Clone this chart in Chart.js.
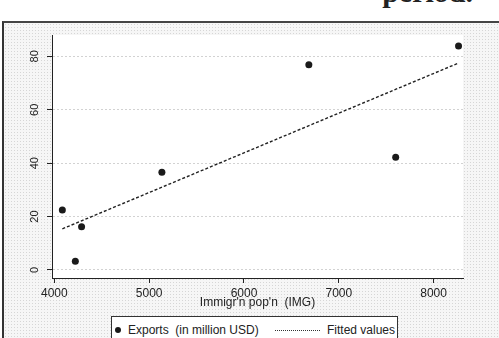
<!DOCTYPE html>
<html>
<head>
<meta charset="utf-8">
<script src="https://cdn.jsdelivr.net/npm/chart.js@4"></script>
<style>
html, body { margin: 0; padding: 0; width: 499px; height: 338px; overflow: hidden; background: #fff; }
#head { position: absolute; left: 0; top: -24px; width: 473px; text-align: right;
  font: bold 30px "Liberation Serif", serif; line-height: 32px; color: #222; white-space: nowrap; }
#frame { position: absolute; left: 2px; top: 21px; width: 497px; height: 317px;
  border-left: 2px solid #333; border-top: 2px solid #444;
  background-color: #f6f6f6;
  background-image: radial-gradient(circle, #d6d6d6 0.6px, transparent 1px);
  background-size: 3px 3px; }
#c { position: absolute; left: 0; top: 0; }
#legend { position: absolute; left: 111px; top: 316px; width: 285px; height: 30px;
  border: 1px solid #333; background: #fff; font: 12px "Liberation Sans", Arial, sans-serif; color: #222; }
#legend span { position: absolute; top: 6px; white-space: nowrap; }
#legend .dot { position: absolute; left: 3px; top: 10px; width: 6px; height: 6px; border-radius: 50%; background: #1a1a1a; }
#legend .dash { position: absolute; left: 163px; top: 13px; width: 45px; border-top: 1px dotted #333; }
</style>
</head>
<body>
<div id="head">period.</div>
<div id="frame"></div>
<canvas id="c" width="499" height="338"></canvas>
<div id="legend">
  <div class="dot"></div><span style="left:16px">Exports&nbsp; (in million USD)</span>
  <div class="dash"></div><span style="left:215px">Fitted values</span>
</div>
<script>
// values
const imgPop = [4084, 4221, 4287, 5134, 6684, 7600, 8263];
const exportsMUSD = [22.5, 3.3, 16.2, 36.6, 76.9, 42.2, 83.9];
const fitX = [4084, 8263];
const fitY = [15.4, 77.5];
const xTicks = [4000, 5000, 6000, 7000, 8000];
const yTicks = [0, 20, 40, 60, 80];

const plotBg = {
  id: 'plotBg',
  beforeDraw(chart) {
    const { ctx, chartArea: a } = chart;
    ctx.save();
    ctx.fillStyle = '#fff';
    ctx.fillRect(a.left, a.top, a.right - a.left, a.bottom - a.top);
    ctx.restore();
  }
};

new Chart(document.getElementById('c'), {
  type: 'scatter',
  data: {
    datasets: [
      {
        label: 'Exports  (in million USD)',
        data: imgPop.map((x, i) => ({ x: x, y: exportsMUSD[i] })),
        pointRadius: 3.5,
        pointBackgroundColor: '#1a1a1a',
        pointBorderWidth: 0
      },
      {
        label: 'Fitted values',
        data: fitX.map((x, i) => ({ x: x, y: fitY[i] })),
        showLine: true,
        borderColor: '#222',
        borderWidth: 1.4,
        borderDash: [3, 2],
        pointRadius: 0
      }
    ]
  },
  options: {
    responsive: false,
    animation: false,
    layout: { padding: { left: 0, top: 35, right: 36, bottom: 26 } },
    plugins: { legend: { display: false }, tooltip: { enabled: false } },
    scales: {
      x: {
        type: 'linear', min: 3975, max: 8310,
        afterBuildTicks: s => { s.ticks = xTicks.map(v => ({ value: v })); },
        afterFit: s => { s.height = 34; },
        grid: { drawOnChartArea: false, tickLength: 5, tickColor: '#222' },
        border: { color: '#222', width: 1 },
        ticks: { padding: 3, color: '#222', maxRotation: 0, callback: v => String(v),
          font: { family: 'Liberation Sans', size: 12 } },
        title: { display: true, text: "Immigr'n pop'n  (IMG)", color: '#222',
          padding: { top: 0, bottom: 2 }, font: { family: 'Liberation Sans', size: 12 } }
      },
      y: {
        min: -3, max: 88,
        afterBuildTicks: s => { s.ticks = yTicks.map(v => ({ value: v })); },
        afterFit: s => { s.width = 52; },
        grid: { color: '#d2d2d2', lineWidth: 1, tickLength: 5, tickColor: '#222' },
        border: { color: '#222', width: 1, dash: [2, 2] },
        ticks: { padding: 6, color: '#222', minRotation: 90, maxRotation: 90, crossAlign: 'center',
          callback: v => String(v), font: { family: 'Liberation Sans', size: 11 } }
      }
    }
  },
  plugins: [plotBg]
});
</script>
</body>
</html>
